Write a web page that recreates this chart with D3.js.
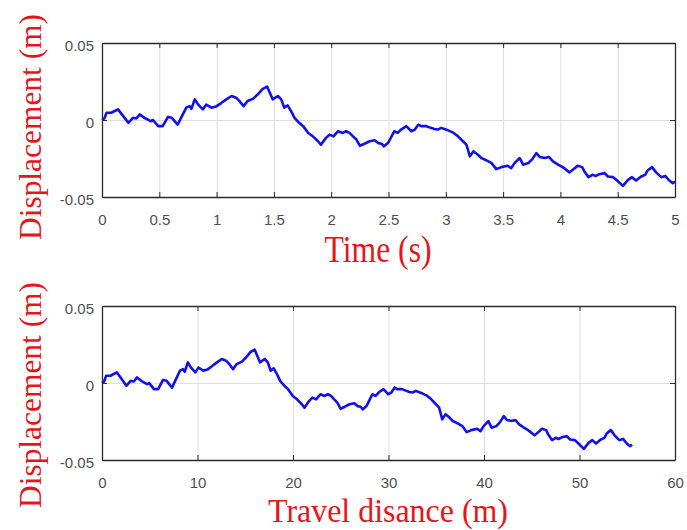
<!DOCTYPE html>
<html><head><meta charset="utf-8">
<script src="https://cdn.jsdelivr.net/npm/d3@7"></script>
<style>body{margin:0;background:#fff}svg{display:block}</style>
</head><body>
<svg id="chart" width="687" height="530"></svg>
<script>
// ---- data ----
const timeS = [0,0.02,0.04,0.08,0.14,0.17,0.23,0.27,0.30,0.33,0.37,0.40,0.425,0.445,0.49,0.53,0.576,0.61,0.66,0.69,0.735,0.765,0.78,0.81,0.84,0.88,0.91,0.955,1.0,1.04,1.085,1.13,1.17,1.20,1.236,1.27,1.32,1.36,1.40,1.44,1.47,1.49,1.535,1.564,1.59,1.62,1.65,1.68,1.72,1.755,1.80,1.84,1.885,1.91,1.955,1.985,2.02,2.06,2.10,2.13,2.16,2.19,2.22,2.25,2.29,2.335,2.38,2.41,2.44,2.46,2.495,2.52,2.55,2.58,2.61,2.655,2.70,2.73,2.76,2.785,2.83,2.87,2.90,2.93,2.96,3.00,3.02,3.06,3.106,3.15,3.18,3.21,3.24,3.27,3.31,3.355,3.40,3.44,3.485,3.54,3.57,3.60,3.645,3.675,3.72,3.755,3.79,3.82,3.865,3.90,3.935,3.98,4.02,4.08,4.125,4.15,4.19,4.21,4.245,4.28,4.31,4.34,4.385,4.415,4.46,4.495,4.545,4.59,4.625,4.66,4.705,4.74,4.76,4.80,4.835,4.88,4.915,4.95,4.98,5.00];
const distanceM = [0,0.22,0.44,0.89,1.55,1.89,2.55,3.00,3.33,3.66,4.11,4.44,4.72,4.94,5.44,5.88,6.39,6.77,7.33,7.66,8.16,8.49,8.66,8.99,9.32,9.77,10.10,10.60,11.10,11.54,12.04,12.54,12.99,13.32,13.72,14.10,14.65,15.10,15.54,15.98,16.32,16.54,17.04,17.36,17.65,17.98,18.32,18.65,19.09,19.48,19.98,20.42,20.92,21.20,21.70,22.03,22.42,22.87,23.31,23.64,23.98,24.31,24.64,24.98,25.42,25.92,26.42,26.75,27.08,27.31,27.69,27.97,28.31,28.64,28.97,29.47,29.97,30.30,30.64,30.91,31.41,31.86,32.19,32.52,32.86,33.30,33.52,33.97,34.48,34.97,35.30,35.63,35.96,36.30,36.74,37.24,37.74,38.18,38.68,39.29,39.63,39.96,40.46,40.79,41.29,41.68,42.07,42.40,42.90,43.29,43.68,44.18,44.62,45.29,45.79,46.07,46.51,46.73,47.12,47.51,47.84,48.17,48.67,49.01,49.51,49.89,50.45,50.95,51.34,51.73,52.23,52.61,52.84,53.28,53.67,54.17,54.56,54.95,55.28,55.50];
const displacementM = [0.000,0.001,0.0047,0.0047,0.0069,0.004,-0.0018,0.0014,0.001,0.0036,0.0014,0.0003,-0.0008,0.000,-0.004,-0.004,0.002,0.0014,-0.003,0.0014,0.008,0.009,0.0073,0.0134,0.010,0.0069,0.010,0.008,0.009,0.011,0.0134,0.0156,0.0145,0.0123,0.009,0.0123,0.0139,0.0167,0.020,0.0217,0.0167,0.0134,0.0156,0.0134,0.008,0.0095,0.0058,0.0014,-0.0018,-0.004,-0.0084,-0.0106,-0.0138,-0.016,-0.0116,-0.0095,-0.0106,-0.0073,-0.0084,-0.0073,-0.0084,-0.0106,-0.0127,-0.0167,-0.0154,-0.0138,-0.0132,-0.015,-0.0154,-0.0171,-0.015,-0.0116,-0.0073,-0.0084,-0.0062,-0.004,-0.0073,-0.0062,-0.003,-0.004,-0.004,-0.0051,-0.0058,-0.0062,-0.0051,-0.0062,-0.0067,-0.008,-0.0106,-0.0138,-0.016,-0.0236,-0.0204,-0.0219,-0.0247,-0.0262,-0.028,-0.0319,-0.0306,-0.0297,-0.0313,-0.028,-0.0247,-0.029,-0.028,-0.0254,-0.0215,-0.024,-0.0247,-0.024,-0.0269,-0.029,-0.0306,-0.034,-0.0313,-0.0297,-0.0306,-0.0335,-0.0371,-0.0356,-0.0363,-0.0352,-0.0345,-0.0367,-0.0371,-0.0393,-0.0428,-0.0389,-0.0371,-0.0393,-0.0367,-0.0356,-0.0328,-0.0306,-0.034,-0.0371,-0.0363,-0.0393,-0.041,-0.040];
const timeTicks = [0,0.5,1,1.5,2,2.5,3,3.5,4,4.5,5];
const distanceTicks = [0,10,20,30,40,50,60];
const dispTicks = [-0.05,0,0.05];
const yLabel = "Displacement (m)";
const xLabelTop = "Time (s)";
const xLabelBottom = "Travel disance (m)";

const svg = d3.select("#chart");
const fmt = d => String(d);

function panel(box, xDomain, xTicks, xVals, xTitle, titleOpts) {
  const x = d3.scaleLinear().domain(xDomain).range([box.left, box.right]);
  const y = d3.scaleLinear().domain([-0.05, 0.05]).range([box.bottom, box.top]);
  const g = svg.append("g");
  const h = box.bottom - box.top, w = box.right - box.left;

  // grid
  g.append("g").attr("transform", `translate(0,${box.bottom})`)
    .call(d3.axisBottom(x).tickValues(xTicks).tickSize(-h).tickFormat(""))
    .call(s => { s.select(".domain").remove(); s.selectAll("line").attr("stroke", "#dedede").attr("stroke-width", 1); });
  g.append("g").attr("transform", `translate(${box.left},0)`)
    .call(d3.axisLeft(y).tickValues(dispTicks).tickSize(-w).tickFormat(""))
    .call(s => { s.select(".domain").remove(); s.selectAll("line").attr("stroke", "#dedede").attr("stroke-width", 1); });

  // line
  const pts = xVals.map((v, i) => [v, displacementM[i]]);
  g.append("path").datum(pts)
    .attr("fill", "none").attr("stroke", "#1010f0").attr("stroke-width", 2.6)
    .attr("stroke-linejoin", "round")
    .attr("d", d3.line().x(d => x(d[0])).y(d => y(d[1])));

  const axStyle = s => {
    s.select(".domain").attr("stroke", "#2a2a2a").attr("stroke-width", 1.3);
    s.selectAll(".tick line").attr("stroke", "#2a2a2a");
    s.selectAll("text").attr("fill", "#505050").attr("font-family", "'Liberation Sans', Arial, sans-serif").attr("font-size", 15);
  };
  // bottom axis (inward ticks)
  g.append("g").attr("transform", `translate(0,${box.bottom})`)
    .call(d3.axisBottom(x).tickValues(xTicks).tickSizeInner(-5).tickSizeOuter(0).tickPadding(17).tickFormat(fmt))
    .call(axStyle);
  // top axis
  g.append("g").attr("transform", `translate(0,${box.top})`)
    .call(d3.axisTop(x).tickValues(xTicks).tickSizeInner(-5).tickSizeOuter(0).tickFormat(""))
    .call(axStyle);
  // left axis
  g.append("g").attr("transform", `translate(${box.left},0)`)
    .call(d3.axisLeft(y).tickValues(dispTicks).tickSizeInner(-5).tickSizeOuter(0).tickPadding(8).tickFormat(fmt))
    .call(axStyle)
    .call(s => s.selectAll("text").attr("dy", "0.52em"));
  // right axis
  g.append("g").attr("transform", `translate(${box.right},0)`)
    .call(d3.axisRight(y).tickValues(dispTicks).tickSizeInner(-5).tickSizeOuter(0).tickFormat(""))
    .call(axStyle);

  // titles
  g.append("text")
    .attr("transform", `translate(${titleOpts.xCx},${titleOpts.xBase})`)
    .attr("text-anchor", "middle")
    .attr("font-family", "'Liberation Serif', 'Times New Roman', serif")
    .attr("font-size", titleOpts.xSize)
    .attr("textLength", titleOpts.xLen).attr("lengthAdjust", "spacingAndGlyphs")
    .attr("fill", "#e8141c")
    .text(xTitle);
  g.append("text")
    .attr("transform", `translate(${titleOpts.yBase},${titleOpts.yCy}) rotate(-90)`)
    .attr("text-anchor", "middle")
    .attr("font-family", "'Liberation Serif', 'Times New Roman', serif")
    .attr("font-size", 32)
    .attr("textLength", 226).attr("lengthAdjust", "spacingAndGlyphs")
    .attr("fill", "#e8141c")
    .text(yLabel);
}

panel({left: 102, right: 675, top: 43, bottom: 197}, [0, 5], timeTicks, timeS, xLabelTop,
  {xCx: 378, xBase: 262, xSize: 38, xLen: 107, yBase: 41, yCy: 127});
panel({left: 102, right: 675, top: 306, bottom: 460}, [0, 60], distanceTicks, distanceM, xLabelBottom,
  {xCx: 388, xBase: 522, xSize: 34, xLen: 240, yBase: 41, yCy: 395});
</script>
</body></html>
